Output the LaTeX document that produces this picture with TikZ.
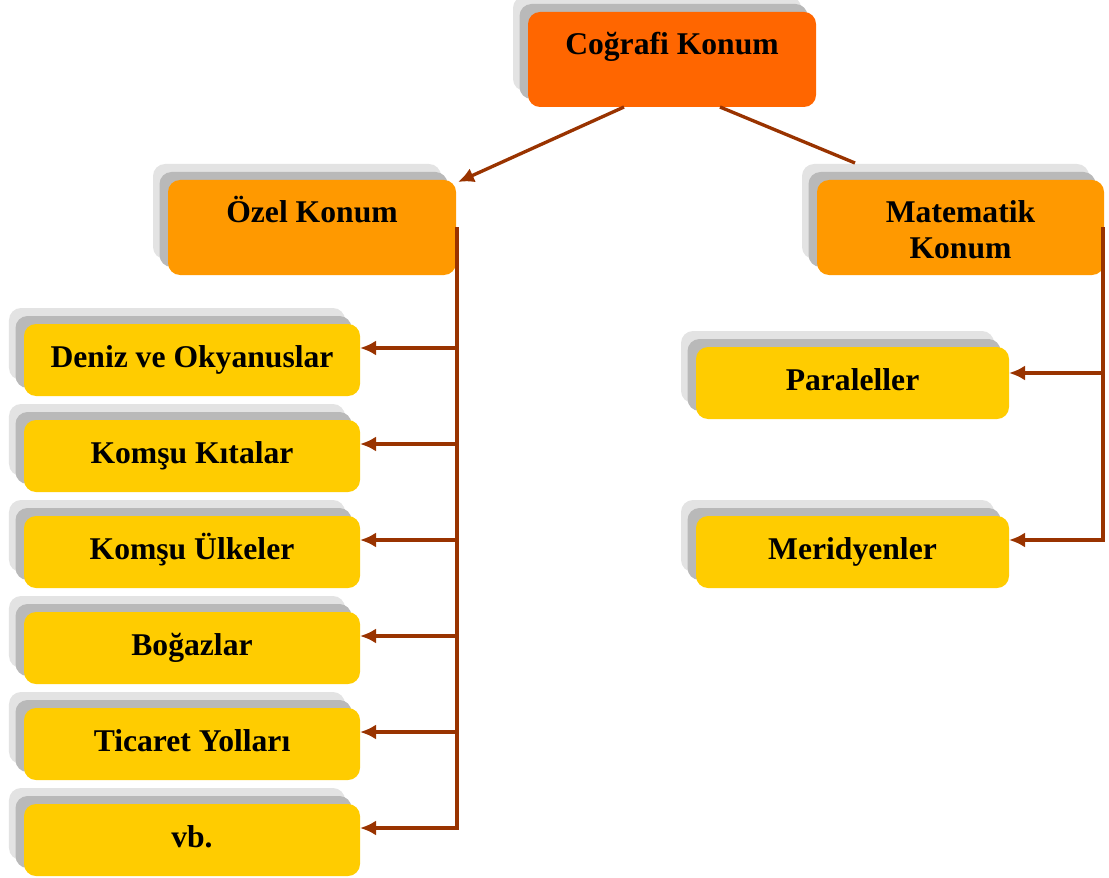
\documentclass[tikz,border=0pt]{standalone}
\usepackage{fontspec}
\setmainfont{Liberation Serif}
\usepackage{tikz}
\usetikzlibrary{positioning,shadows,arrows.meta}
\definecolor{toporange}{HTML}{FF6600}
\definecolor{midorange}{HTML}{FF9900}
\definecolor{leafyellow}{HTML}{FFCC00}
\definecolor{linkbrown}{HTML}{993300}

\begin{document}
\begin{tikzpicture}[font=\fontsize{18}{20.5}\selectfont\bfseries]
\tikzstyle{shbox}=[rectangle, rounded corners=0.24cm, inner sep=0pt, outer sep=0pt, align=center,
  copy shadow={shadow xshift=-0.3cm, shadow yshift=0.32cm, fill=gray!22, draw=none},
  copy shadow={shadow xshift=-0.17cm, shadow yshift=0.16cm, fill=gray!55, draw=none}]
\tikzstyle{head}=[shbox, minimum width=5.76cm, minimum height=1.9cm, text height=0.5cm, text depth=0.68cm]
\tikzstyle{leaf}=[shbox, fill=leafyellow, minimum height=1.44cm, text height=0.5cm, text depth=0.2cm]
\tikzstyle{link}=[draw=linkbrown, line width=1.9pt]
\tikzstyle{connect}=[link, -{Latex[length=3.2mm,width=3mm]}]
\useasboundingbox (0,0) rectangle (22.18,-17.56);
	\node[head, fill=toporange] (cografi) at (13.44,-1.19) {Coğrafi Konum};
	\node[head, fill=midorange] (ozel) at (6.24,-4.55) {Özel Konum};
	\node[head, fill=midorange, minimum width=5.74cm, text height=1.4cm, text depth=0.14cm] (matematik) at (19.21,-4.55) {Matematik\\Konum};

	\node[leaf, minimum width=6.72cm] (deniz) at (3.84,-7.2) {Deniz ve Okyanuslar};
	\node[leaf, minimum width=6.72cm] (kita) at (3.84,-9.12) {Komşu Kıtalar};
	\node[leaf, minimum width=6.72cm] (ulke) at (3.84,-11.04) {Komşu Ülkeler};
	\node[leaf, minimum width=6.72cm] (bogaz) at (3.84,-12.96) {Boğazlar};
	\node[leaf, minimum width=6.72cm] (ticaret) at (3.84,-14.88) {Ticaret Yolları};
	\node[leaf, minimum width=6.72cm] (vb) at (3.84,-16.8) {vb.};

	\node[leaf, minimum width=6.26cm] (paralel) at (17.05,-7.66) {Paraleller};
	\node[leaf, minimum width=6.26cm] (meridyen) at (17.05,-11.04) {Meridyenler};

	\draw[connect] ([xshift=-0.96cm]cografi.south) -- ([xshift=0.04cm,yshift=-0.04cm]ozel.north east);
	\draw[link] ([xshift=0.96cm]cografi.south) -- ([xshift=0.76cm,yshift=0.34cm]matematik.north west);

	\foreach \leafnode in {deniz,kita,ulke,bogaz,ticaret,vb}
		\draw[connect] ([xshift=0.02cm]ozel.east) |- ([yshift=0.24cm]\leafnode.east);
	\draw[connect] ([xshift=-0.02cm]matematik.east) |- ([yshift=0.2cm]paralel.east);
	\draw[connect] ([xshift=-0.02cm]matematik.east) |- ([yshift=0.24cm]meridyen.east);
\end{tikzpicture}
\end{document}
